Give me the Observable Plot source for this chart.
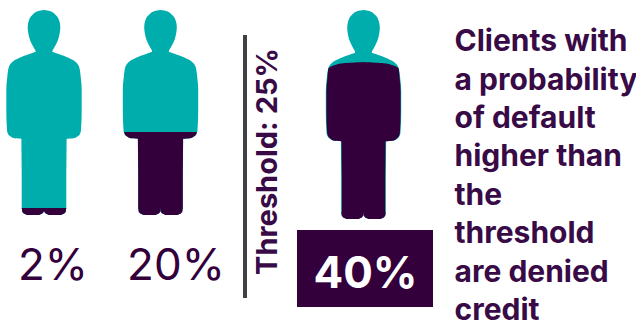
<!DOCTYPE html>
<html>
<head>
<meta charset="utf-8">
<script src="https://cdn.jsdelivr.net/npm/d3@7"></script>
<script src="https://cdn.jsdelivr.net/npm/@observablehq/plot@0.6"></script>
<style>html,body{margin:0;padding:0;background:#fff}svg{display:block}</style>
</head>
<body>
<div id="chart"></div>
<script>
// Probability of default for three clients, and the credit threshold
const clients = ["A", "B", "C"];
const probabilities = [2, 20, 40];
const thresholdValue = 25;
const noteLines = ["Clients with", "a probability", "of default", "higher than", "the", "threshold", "are denied", "credit"];

const teal = "#00adad";
const plum = "#33003c";
const inkText = "#380a46";
const font = "Inter, sans-serif";

// Pictogram placement on the page
const centres = [44, 160.5, 363.5];
const feet = [215, 215, 219];
const heads = [10, 10, 10];

// Silhouette profile: share of figure height from the feet, half width in px
const bodyShare = [0.03, 0.2, 0.36, 0.371, 0.374, 0.382, 0.392, 0.415, 0.512, 0.61, 0.675, 0.724, 0.74, 0.756, 0.772, 0.789, 0.797,
                   0.821, 0.854, 0.886, 0.918, 0.951, 0.976, 0.995, 1];
const bodyHalf  = [22.3, 22.3, 22.6, 22.6, 29.5, 33, 35.5, 37, 37.7, 37.7, 36.7, 35, 33, 29, 22, 12.3, 8.3,
                   10.7, 14, 15.7, 16.3, 15, 11.7, 5.7, 0];
const footShare = [0, 0.008, 0.021, 0.035];
const footHalf  = [6, 9.5, 11, 11];
const footInset = 11;

// How far up the figure each probability reaches
const fillShare = d3.scaleLinear([0, 2, 20, 40], [0, 0.034, 0.405, 0.751]);

// Rounded crown of the highest fill, as share below its top and half width
const crownShare = [-0.029, -0.026, -0.017, -0.006, 0];
const crownHalf = [35, 34, 30, 20, 0];
const crownFringe = 0.6;

function rowsFor(i) {
  const y = (s) => feet[i] - s * (feet[i] - heads[i]);
  const rows = [];
  const add = (part, shares, halves, dx = 0) => shares.forEach((s, k) =>
    rows.push({part: `${i}-${part}`, share: s, y: y(s),
               x1: centres[i] + dx - halves[k], x2: centres[i] + dx + halves[k]}));
  add("footL", footShare, footHalf, -footInset);
  add("footR", footShare, footHalf, footInset);
  add("body", bodyShare, bodyHalf);
  return rows;
}

const halfAt = d3.scaleLinear(bodyShare, bodyHalf);
const footHalfAt = d3.scaleLinear(footShare, footHalf);

function fillRows(i) {
  const level = fillShare(probabilities[i]);
  const y = (s) => feet[i] - s * (feet[i] - heads[i]);
  const edge = (part, share, half, dx = 0) => ({
    part: `${i}-${part}`, share, y: y(share),
    x1: centres[i] + dx - half, x2: centres[i] + dx + half
  });
  const crowned = probabilities[i] === d3.max(probabilities);
  const cutoff = crowned ? level + crownShare[0] : level;
  let rows = rowsFor(i).filter((d) => d.share < cutoff);
  if (crowned) {
    // a hairline of the base colour stays visible along the body edge
    rows = rows.map((d) => d.part.endsWith("body")
      ? {...d, x1: d.x1 + crownFringe, x2: d.x2 - crownFringe} : d);
    crownShare.forEach((s, k) => rows.push(edge("body", level + s, crownHalf[k])));
  } else {
    rows.push(edge("body", level, halfAt(level)));
    if (level < footShare[footShare.length - 1]) {
      // the fill stops within the feet; close them flat at the fill edge
      rows.push(edge("footL", level, footHalfAt(level), -footInset));
      rows.push(edge("footR", level, footHalfAt(level), footInset));
    }
  }
  return d3.sort(rows, (d) => d.part, (d) => d.share);
}

const silhouettes = clients.flatMap((_, i) => rowsFor(i));
const fills = clients.flatMap((_, i) => fillRows(i));

// Label anchors on the page
const labelX = [52.5, 175.5];
const labelY = 265.9;
const noteX = 454;
const noteY = noteLines.map((_, i) => 41 + i * 38.4);

const shape = (data, fill) => Plot.areaX(data, {
  x1: "x1", x2: "x2", y: "y", z: "part", fill, curve: "monotone-y"
});

const chart = Plot.plot({
  width: 636, height: 321,
  margin: 0,
  style: {background: "#fff", fontFamily: font},
  x: {domain: [0, 636], range: [0, 636], axis: null},
  y: {domain: [0, 321], range: [0, 321], axis: null},
  marks: [
    shape(silhouettes, teal),
    shape(fills, plum),
    Plot.text(probabilities.slice(0, 2), {
      x: (_, i) => labelX[i], y: labelY,
      text: (d) => `${d}%`, fontSize: 44, fontWeight: 400, fill: plum
    }),
    Plot.ruleX([244.5], {y1: 35, y2: 298, stroke: "#404045", strokeWidth: 4}),
    Plot.text([`Threshold: ${thresholdValue}%`], {
      x: 267, y: 161, text: (d) => d, rotate: -90, fontSize: 29, fontWeight: 700, fill: inkText
    }),
    Plot.rect([probabilities[2]], {x1: 297, x2: 433, y1: 230, y2: 307, fill: plum}),
    Plot.text([probabilities[2]], {
      x: 365, y: 273, text: (d) => `${d}%`, fontSize: 44, fontWeight: 700, fill: "#fff"
    }),
    Plot.text(noteLines, {
      x: noteX, y: (_, i) => noteY[i], text: (d) => d, textAnchor: "start",
      fontSize: 30, fontWeight: 700, fill: inkText
    })
  ]
});
document.getElementById("chart").append(chart);
</script>
</body>
</html>
